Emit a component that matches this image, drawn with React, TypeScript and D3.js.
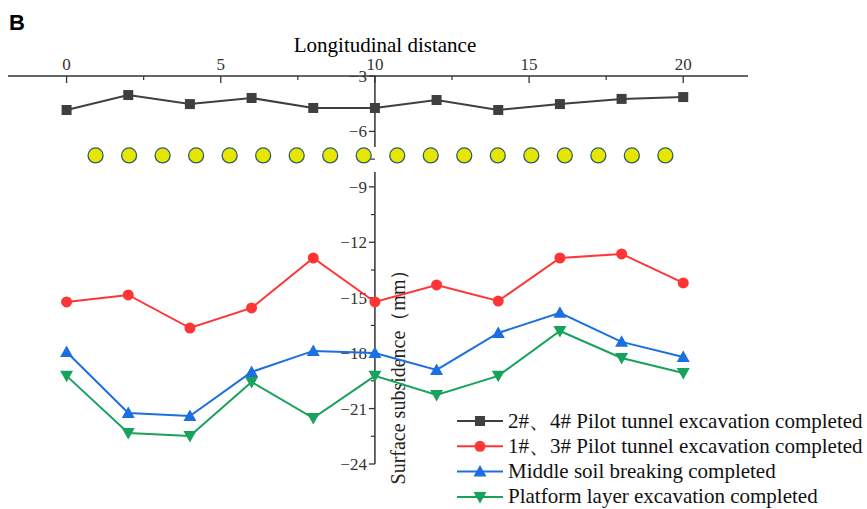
import React from "react";
import * as d3 from "d3";

const xs = [0, 2, 4, 6, 8, 10, 12, 14, 16, 18, 20];
const seriesNames = [
  "2#、4# Pilot tunnel excavation completed",
  "1#、3# Pilot tunnel excavation completed",
  "Middle soil breaking completed",
  "Platform layer excavation completed",
];
const gray = [-4.84, -4.03, -4.52, -4.19, -4.73, -4.73, -4.3, -4.84, -4.52, -4.24, -4.14];
const red = [-15.23, -14.85, -16.64, -15.55, -12.85, -15.23, -14.31, -15.18, -12.85, -12.63, -14.2];
const blue = [-17.94, -21.24, -21.4, -19.02, -17.88, -17.99, -18.91, -16.91, -15.82, -17.39, -18.21];
const green = [-19.23, -22.32, -22.48, -19.56, -21.51, -19.23, -20.26, -19.23, -16.8, -18.26, -19.07];
const xTicks = [0, 5, 10, 15, 20];
const yTicks = [-3, -6, -9, -12, -15, -18, -21, -24];
const circleCount = 18;
const circleStart = 0.94;
const circleEnd = 19.42;
const circleLevel = -7.3;

const colors = ["#3f3f3f", "#ff3535", "#1b6fe0", "#17a35c"];
const markers = ["square", "circle", "up", "down"];

export default function App() {
  const W = 867, H = 509;
  const x = d3.scaleLinear().domain([-1.9, 22.1]).range([8, 748]);
  const y = d3.scaleLinear().domain([-24, -3]).range([464, 76]);
  const all = [gray, red, blue, green];
  const line = d3.line<number>().x((_, i) => x(xs[i])).y((d) => y(d));
  const font = "Liberation Serif";

  const marker = (type: string, cx: number, cy: number, color: string, key: any) => {
    if (type === "square") return <rect key={key} x={cx - 5} y={cy - 5} width={10} height={10} fill={color} />;
    if (type === "circle") return <circle key={key} cx={cx} cy={cy} r={5.5} fill={color} />;
    if (type === "up")
      return <path key={key} d={`M${cx},${cy - 6.5}L${cx + 6.5},${cy + 5}L${cx - 6.5},${cy + 5}Z`} fill={color} />;
    return <path key={key} d={`M${cx},${cy + 6.5}L${cx + 6.5},${cy - 5}L${cx - 6.5},${cy - 5}Z`} fill={color} />;
  };

  const yAxisX = x(10);
  const gapTop = 147, gapBot = 172;
  const minorX = d3.range(-0, 22.1, 2.5).filter((v) => !xTicks.includes(v));
  const minorY = d3.range(-4.5, -24, -3);
  const circlesX = d3.range(circleCount).map((i) => circleStart + (i * (circleEnd - circleStart)) / (circleCount - 1));

  return (
    <svg width={W} height={H} style={{ position: "absolute", left: 0, top: 0 }}>
      <rect width={W} height={H} fill="#fff" />
      <text x={9} y={30} style={{ fontFamily: "Liberation Sans" }} fontWeight="bold" fontSize={22}>B</text>
      <text x={385} y={52} textAnchor="middle" style={{ fontFamily: font }} fontSize={21}>Longitudinal distance</text>
      {/* x axis */}
      <line x1={x.range()[0]} x2={x.range()[1]} y1={76} y2={76} stroke="#333" strokeWidth={1.5} />
      {xTicks.map((t) => (
        <g key={t}>
          <line x1={x(t)} x2={x(t)} y1={76} y2={83} stroke="#333" strokeWidth={1.3} />
          <text x={x(t)} y={70} textAnchor="middle" style={{ fontFamily: font }} fontSize={17} fill="#333">{t}</text>
        </g>
      ))}
      {minorX.map((t) => (
        <line key={t} x1={x(t)} x2={x(t)} y1={76} y2={80} stroke="#333" strokeWidth={1.2} />
      ))}
      {/* y axis */}
      <line x1={yAxisX} x2={yAxisX} y1={76} y2={gapTop} stroke="#333" strokeWidth={1.5} />
      <line x1={yAxisX} x2={yAxisX} y1={gapBot} y2={464} stroke="#333" strokeWidth={1.5} />
      {yTicks.map((t) => (
        <g key={t}>
          <line x1={yAxisX - 6} x2={yAxisX} y1={y(t)} y2={y(t)} stroke="#333" strokeWidth={1.3} />
          <text x={yAxisX - 8} y={y(t) + 6} textAnchor="end" style={{ fontFamily: font }} fontSize={17} fill="#333">
            {"\u2212" + Math.abs(t)}
          </text>
        </g>
      ))}
      {minorY.map((t) => (
        <line key={t} x1={yAxisX - 4} x2={yAxisX} y1={y(t)} y2={y(t)} stroke="#333" strokeWidth={1.2} />
      ))}
      <text
        transform={`translate(${yAxisX + 30},${372}) rotate(-90)`}
        textAnchor="middle"
        style={{ fontFamily: font }}
        fontSize={20}
        fill="#222"
      >
        Surface subsidence（mm）
      </text>
      {/* circles */}
      {circlesX.map((c, i) => (
        <circle key={i} cx={x(c)} cy={y(circleLevel)} r={7.5} fill="#e6e600" stroke="#2d5f6a" strokeWidth={1.3} />
      ))}
      {/* series */}
      {all.map((s, si) => (
        <g key={si}>
          <path d={line(s) || ""} fill="none" stroke={colors[si]} strokeWidth={2} />
          {s.map((v, i) => marker(markers[si], x(xs[i]), y(v), colors[si], i))}
        </g>
      ))}
      {/* legend */}
      {seriesNames.map((n, i) => {
        const ly = 421 + i * 25.3;
        return (
          <g key={n}>
            <line x1={457} x2={503} y1={ly} y2={ly} stroke={colors[i]} strokeWidth={2} />
            {marker(markers[i], 480, ly, colors[i], "m")}
            <text x={508} y={ly + 6.5} style={{ fontFamily: font }} fontSize={21} fill="#111">{n}</text>
          </g>
        );
      })}
    </svg>
  );
}
